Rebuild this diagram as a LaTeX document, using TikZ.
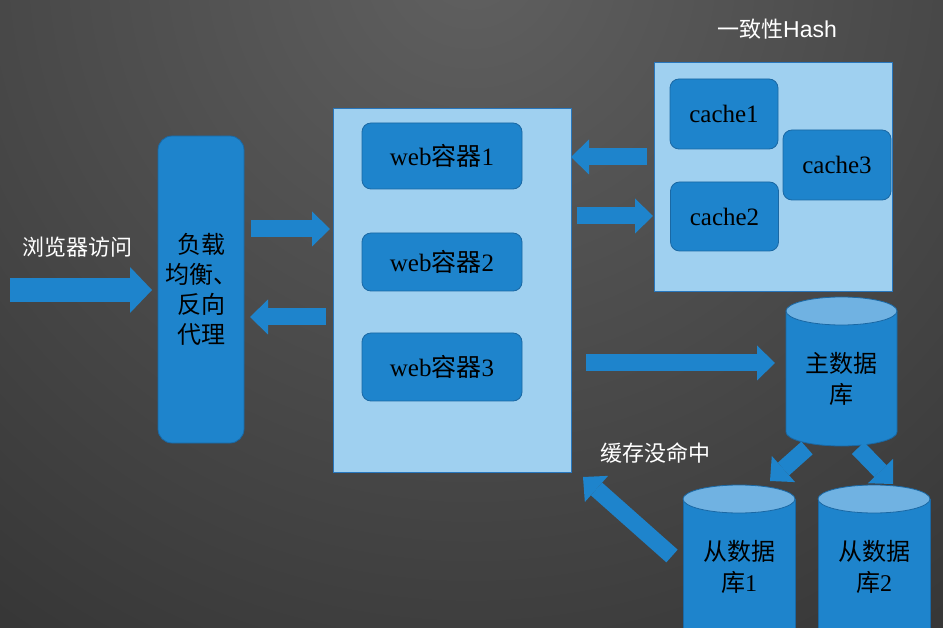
\documentclass[tikz,border=0pt]{standalone}
\usepackage{fontspec}
\setmainfont{Liberation Serif}
\newfontfamily\zhfont{Noto Sans CJK SC}
\newfontfamily\arialfont{Liberation Sans}
\usetikzlibrary{arrows.meta}
\newcommand{\zh}[1]{{\zhfont #1}}
\definecolor{boxblue}{RGB}{30,132,204}
\definecolor{boxline}{RGB}{26,104,164}
\definecolor{paleblue}{RGB}{159,208,240}
\definecolor{paneline}{RGB}{40,118,188}
\definecolor{dbtop}{RGB}{112,178,226}
\definecolor{bgcenter}{RGB}{96,96,96}
\definecolor{bgedge}{RGB}{30,30,30}
\tikzset{
  panel/.style={
    draw=paneline,
    fill=paleblue,
    line width=0.8pt
  },
  srvbox/.style={
    draw=boxline,
    fill=boxblue,
    rounded corners=9pt,
    line width=0.8pt,
    text=black,
    inner sep=0pt,
    font=\fontsize{25}{30}\selectfont
  },
  fat arrow/.style={
    draw=boxblue,
    line width=17pt,
    -{Triangle[length=18pt, width=35pt, line width=0pt]}
  },
  label text/.style={
    text=white,
    inner sep=0pt,
    font=\zhfont\fontsize{22}{26}\selectfont
  },
  db body/.style={
    fill=boxblue,
    draw=boxline,
    line width=0.8pt
  },
  db top/.style={
    fill=dbtop,
    draw=boxline,
    line width=0.8pt
  },
  db text/.style={
    text=black,
    align=center,
    inner sep=0pt,
    font=\zhfont\fontsize{24}{31}\selectfont
  }
}

\begin{document}
\begin{tikzpicture}[x=1pt, y=-1pt]

  %% ---- 背景（上方偏亮的深灰渐变）----
  \useasboundingbox (0,0) rectangle (943,628);
  \begin{scope}
  \clip (0,0) rectangle (943,628);
  \shade[inner color=bgcenter, outer color=bgedge] (471,-40) circle (1300);

  %% ---- 负载均衡 ----
  \node[srvbox, rounded corners=14pt, minimum width=86pt, minimum height=307pt,
        align=center, font=\zhfont\fontsize{24}{30}\selectfont]
        (lb) at (201,289.5) {负载\\均衡、\\反向\\代理};
  \node[label text] (browser) at (78,247) {浏览器访问};

  %% ---- web 容器 ----
  \node[panel, minimum width=238pt, minimum height=364pt] (web) at (452,290) {};
  \node[srvbox, minimum width=160pt, minimum height=66pt] (w1) at (442,156) {web\zh{容器}1};
  \node[srvbox, minimum width=160pt, minimum height=58pt] (w2) at (442,262) {web\zh{容器}2};
  \node[srvbox, minimum width=160pt, minimum height=68pt] (w3) at (442,367) {web\zh{容器}3};

  %% ---- 缓存（一致性Hash）----
  \node[panel, minimum width=238pt, minimum height=229pt] (cache) at (773,176.5) {};
  \node[srvbox, minimum width=108pt, minimum height=70pt] (c1) at (724,114) {cache1};
  \node[srvbox, minimum width=108pt, minimum height=69pt] (c2) at (724.5,216.5) {cache2};
  \node[srvbox, minimum width=108pt, minimum height=70pt] (c3) at (837,165) {cache3};
  \node[label text] (hash) at (777,29) {一致性{\arialfont\fontsize{23}{26}\selectfont Hash}};

  %% ---- 数据库（圆柱）----
  % 主库
  \filldraw[db body] (786,311) -- (786,432)
      arc[start angle=180, end angle=0, x radius=55.5, y radius=14] -- (897,311) -- cycle;
  \filldraw[db top] (841.5,311) ellipse[x radius=55.5, y radius=14];
  \node[db text] (master) at (841.5,379) {主数据\\库};
  % 从库（下方超出画面）
  \filldraw[db body] (683,499) -- (683,650) -- (795,650) -- (795,499) -- cycle;
  \filldraw[db top] (739,499) ellipse[x radius=56, y radius=14];
  \node[db text] (slave1) at (739,567) {从数据\\库{\rmfamily 1}};
  \filldraw[db body] (818,499) -- (818,650) -- (930,650) -- (930,499) -- cycle;
  \filldraw[db top] (874,499) ellipse[x radius=56, y radius=14];
  \node[db text] (slave2) at (874,567) {从数据\\库{\rmfamily 2}};
  \node[label text] (miss) at (655,453) {缓存没命中};

  %% ---- 箭头端点 ----
  \coordinate (in0) at (10,290);   \coordinate (in1) at (152,290);
  \coordinate (fw0) at (251,229);  \coordinate (fw1) at (330,229);
  \coordinate (bk0) at (326,317);  \coordinate (bk1) at (250,317);
  \coordinate (ch0) at (647,157);  \coordinate (ch1) at (571,157);
  \coordinate (cq0) at (577,216);  \coordinate (cq1) at (653,216);
  \coordinate (db0) at (586,363);  \coordinate (db1) at (775,363);
  \coordinate (sl0) at (807,448);  \coordinate (sl1) at (770,481);
  \coordinate (sr0) at (858,448);  \coordinate (sr1) at (893,484);
  \coordinate (ms0) at (672,556);  \coordinate (ms1) at (583,477);

  %% ---- 箭头 ----
  \draw[fat arrow, line width=24pt,
        -{Triangle[length=22pt, width=46pt, line width=0pt]}] (in0) -- (in1);
  \draw[fat arrow] (fw0) -- (fw1);
  \draw[fat arrow] (bk0) -- (bk1);
  \draw[fat arrow] (ch0) -- (ch1);
  \draw[fat arrow] (cq0) -- (cq1);
  \draw[fat arrow] (db0) -- (db1);
  \draw[fat arrow] (sl0) -- (sl1);
  \draw[fat arrow] (sr0) -- (sr1);
  \draw[fat arrow] (ms0) -- (ms1);
  \end{scope}

\end{tikzpicture}
\end{document}
